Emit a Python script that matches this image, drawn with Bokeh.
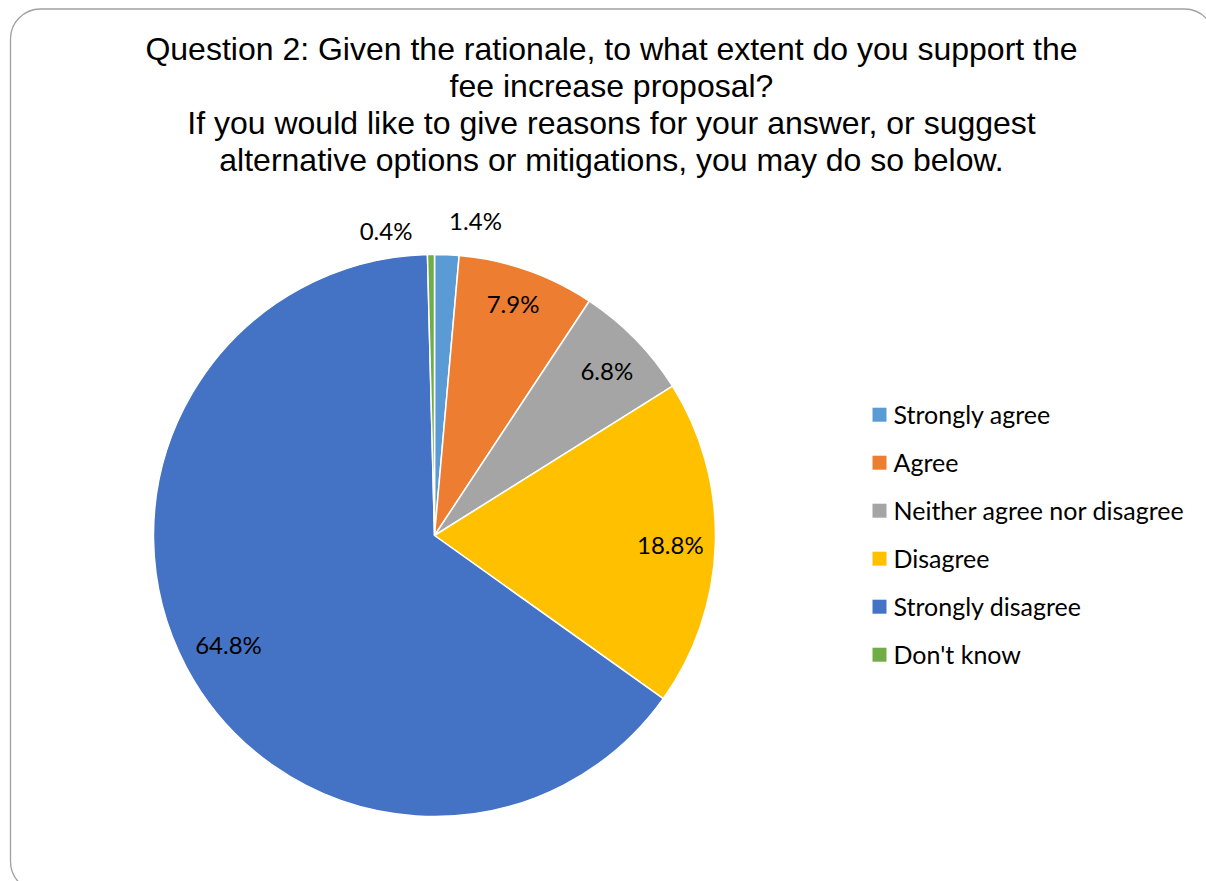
import math
from bokeh.plotting import figure
from bokeh.models import Range1d, BoxAnnotation, ColumnDataSource
from bokeh.core.properties import value
from bokeh.embed import file_html
from bokeh.resources import INLINE

# ---- data ----
categories = ["Strongly agree", "Agree", "Neither agree nor disagree",
              "Disagree", "Strongly disagree", "Don't know"]
percents = [1.4, 7.9, 6.8, 18.8, 64.8, 0.4]
colors = ["#5B9BD5", "#ED7D31", "#A5A5A5", "#FFC000", "#4472C4", "#70AD47"]
title_lines = [
    "Question 2: Given the rationale, to what extent do you support the",
    "fee increase proposal?",
    "If you would like to give reasons for your answer, or suggest",
    "alternative options or mitigations, you may do so below.",
]

# ---- layout settings ----
W, H = 1206, 881
PAGE_H = 881
def py(y):  # page y -> data y
    return PAGE_H - y

cx, cy, R = 434, py(535), 281
label_rfac = [1.13, 0.87, 0.85, 0.84, 0.83, 1.10]
label_nudge_deg = [4.9, -0.5, 0.5, 0.5, 0.0, -8.3]
LABEL_FONT = "Lato"
LABEL_SIZE = "24px"
LEGEND_SIZE = "25px"

p = figure(width=W, height=H, output_backend="svg", toolbar_location=None,
           x_range=Range1d(0, W), y_range=Range1d(0, H),
           min_border=0, outline_line_color=None, match_aspect=False)
p.axis.visible = False
p.grid.visible = False
p.background_fill_color = "white"
p.border_fill_color = "white"

# rounded chart border
p.add_layout(BoxAnnotation(left=10, right=1214, top=py(8.5), bottom=py(891),
                           fill_color=None, fill_alpha=0, line_color="#A0A0A0",
                           line_alpha=1.0, line_width=1.3, border_radius=30))

# pie
total = sum(percents)
starts, ends, mids = [], [], []
acc = 0.0
for v in percents:
    f0 = acc / total
    acc += v
    f1 = acc / total
    starts.append(math.pi / 2 - f0 * 2 * math.pi)
    ends.append(math.pi / 2 - f1 * 2 * math.pi)
    mids.append((f0 + f1) / 2 * 360.0)

src = ColumnDataSource(dict(cat=categories, pct=percents, color=colors,
                            start=starts, end=ends))
p.wedge(x=cx, y=cy, radius=R, start_angle="start", end_angle="end",
        direction="clock", fill_color="color", line_color="white",
        line_width=1.5, source=src)

# data labels
lx, ly, lt = [], [], []
for v, m, rf, nd in zip(percents, mids, label_rfac, label_nudge_deg):
    a = math.radians(m + nd)
    lx.append(cx + rf * R * math.sin(a))
    ly.append(cy + rf * R * math.cos(a))
    lt.append(f"{v:.1f}%")
p.text(x=lx, y=ly, text=lt, text_font=value(LABEL_FONT), text_font_size=LABEL_SIZE,
       text_color="#000000", text_align="center", text_baseline="middle")

# title
tx = [611] * len(title_lines)
ty = [py(48 + 37.3 * i) for i in range(len(title_lines))]
p.text(x=tx, y=ty, text=title_lines, text_font=value("Liberation Sans"),
       text_font_size="32px", text_color="#000000", text_align="center",
       text_baseline="middle")

# legend
leg_mid = [414.2 + 48.0 * i for i in range(len(categories))]
p.rect(x=[879] * len(categories), y=[py(b) for b in leg_mid],
       width=14, height=14, fill_color=colors, line_color=None)
p.text(x=[893] * len(categories), y=[py(b - 1) for b in leg_mid], text=categories,
       text_font=value(LABEL_FONT), text_font_size=LEGEND_SIZE, text_color="#000000",
       text_align="left", text_baseline="middle")

open("out.html", "w").write(file_html(p, INLINE))
